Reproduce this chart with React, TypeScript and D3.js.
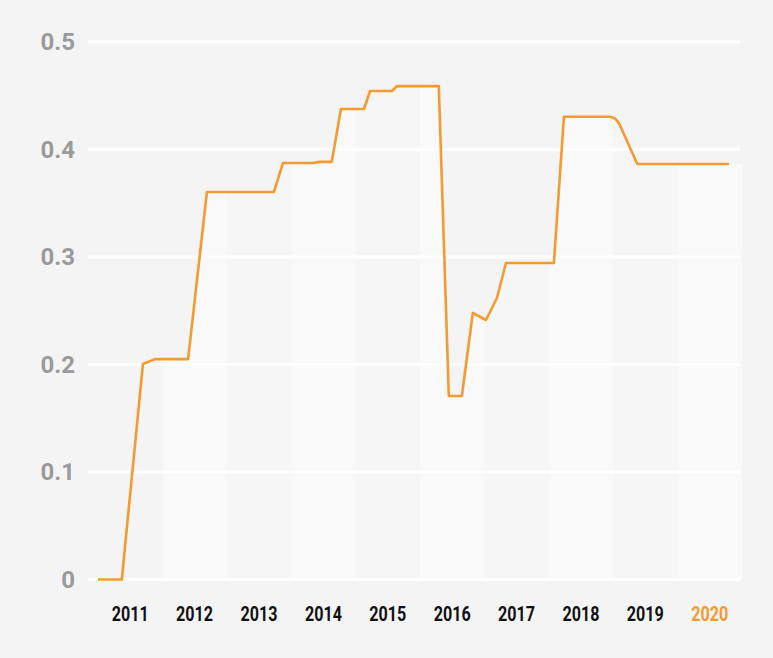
import React from 'react';
import * as d3 from 'd3';

// ---- data ----
const dates: string[] = [
  '2011-01-01', '2011-05-16', '2011-09-13', '2011-11-20', '2012-05-26', '2012-09-10',
  '2013-09-25', '2013-11-15', '2014-05-05', '2014-06-13', '2014-08-19', '2014-10-10',
  '2015-02-18', '2015-03-24', '2015-07-26', '2015-08-23', '2016-04-17', '2016-06-13',
  '2016-08-26', '2016-10-27', '2017-01-10', '2017-03-13', '2017-05-03', '2018-01-30',
  '2018-03-28', '2018-12-13', '2019-01-10', '2019-01-25', '2019-02-08', '2019-05-18',
  '2020-10-19',
];
const values: number[] = [
  0, 0, 0.2005, 0.205, 0.205, 0.3605,
  0.3605, 0.3874, 0.3874, 0.3885, 0.3885, 0.4377,
  0.4377, 0.4544, 0.4544, 0.459, 0.459, 0.1707,
  0.1707, 0.2479, 0.2414, 0.2619, 0.2944, 0.2944,
  0.4305, 0.4305, 0.429, 0.4265, 0.4228, 0.3865,
  0.3865,
];
const years: string[] = ['2011', '2012', '2013', '2014', '2015', '2016', '2017', '2018', '2019', '2020'];
const yTicks: number[] = [0, 0.1, 0.2, 0.3, 0.4, 0.5];
const highlightYear = '2020';

const W = 773;
const H = 658;
const ORANGE = '#f59a30';

export default function App() {
  const parse = d3.timeParse('%Y-%m-%d');
  const data = dates.map((d, i) => ({ d: parse(d) as Date, v: values[i] }));
  const start = new Date(2011, 0, 1);
  const end = new Date(2021, 0, 1);
  const x = d3.scaleTime().domain([start, end]).range([98, 742]);
  const y = d3.scaleLinear().domain([0, 0.5]).range([579.5, 42]);

  const line = d3.line<{ d: Date; v: number }>().x((p) => x(p.d)).y((p) => y(p.v));
  const areaData = [...data, { d: end, v: data[data.length - 1].v }];
  const area = d3
    .area<{ d: Date; v: number }>()
    .x((p) => x(p.d))
    .y0(y(0))
    .y1((p) => y(p.v));

  const cols = years.map((yr, i) => {
    const x0 = x(new Date(+yr, 0, 1));
    const x1 = x(new Date(+yr + 1, 0, 1));
    return { yr, i, x0, x1, cx: (x0 + x1) / 2 };
  });

  return (
    <svg
      width={W}
      height={H}
      style={{ position: 'absolute', left: 0, top: 0, background: '#f4f4f4' }}
    >
      <defs>
        {cols.map((c) => (
          <clipPath id={`col-${c.yr}`} key={c.yr}>
            <rect x={c.x0} y={0} width={c.x1 - c.x0} height={H} />
          </clipPath>
        ))}
      </defs>
      <rect x={0} y={0} width={W} height={H} fill="#f4f4f4" />
      {cols.map((c) => (
        <path
          key={c.yr}
          d={area(areaData) || ''}
          clipPath={`url(#col-${c.yr})`}
          fill="#ffffff"
          fillOpacity={c.i === 0 ? 0 : c.i % 2 === 1 ? 0.45 : 0.18}
        />
      ))}
      {yTicks.map((t) => (
        <g key={t}>
          <line x1={88} x2={740} y1={y(t)} y2={y(t)} stroke="#ffffff" strokeWidth={3} />
          <text
            x={75}
            y={y(t)}
            dy="0.35em"
            textAnchor="end"
            fontFamily="Roboto, sans-serif"
            fontWeight={700}
            fontSize={24}
            fill="#9a9a9a"
          >
            {t === 0 ? '0' : d3.format('.1f')(t)}
          </text>
        </g>
      ))}
      <path d={line(data) || ''} fill="none" stroke={ORANGE} strokeWidth={2.6} strokeLinejoin="round" />
      {cols.map((c) => (
        <text
          key={c.yr}
          x={c.cx}
          y={621}
          textAnchor="middle"
          fontFamily="Roboto, sans-serif"
          fontWeight={700}
          fontSize={20}
          textLength={37}
          lengthAdjust="spacingAndGlyphs"
          fill={c.yr === highlightYear ? ORANGE : '#111111'}
        >
          {c.yr}
        </text>
      ))}
    </svg>
  );
}
